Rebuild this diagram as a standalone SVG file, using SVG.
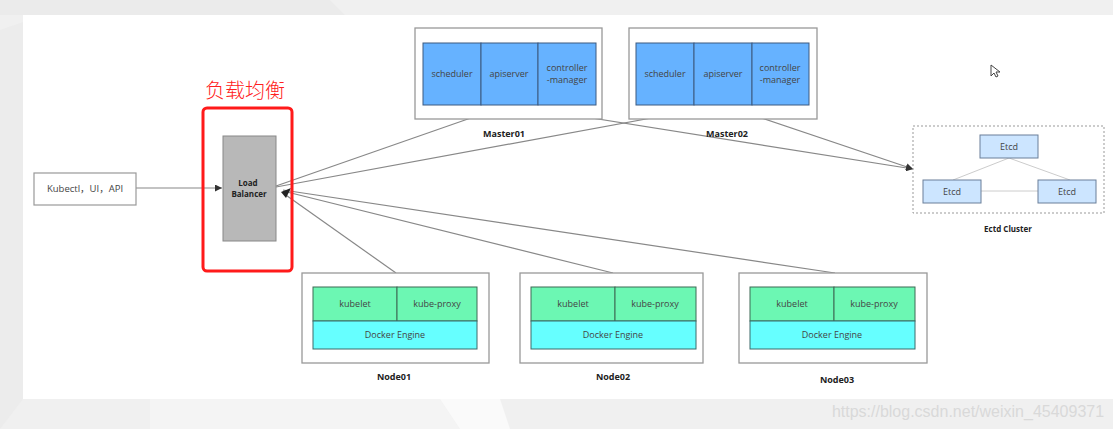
<svg xmlns="http://www.w3.org/2000/svg" width="1113" height="429" viewBox="0 0 1113 429">
<defs>
<marker id="ah" viewBox="0 0 10 10" refX="10" refY="5" markerWidth="7" markerHeight="7" orient="auto" markerUnits="userSpaceOnUse">
<path d="M0,0 L10,5 L0,10 z" fill="#333"/>
</marker>
</defs>
<style>
text{font-family:"Open Sans","Liberation Sans",sans-serif;fill:#444;font-size:9px;text-anchor:middle}
.b{font-weight:bold;fill:#222}
.outer{fill:#fff;stroke:#999;stroke-width:1.3}
.m{fill:#66b2ff;stroke:#3d5a80;stroke-width:1}
.k{fill:#6cf7b3;stroke:#3d6a55;stroke-width:1}
.d{fill:#66ffff;stroke:#3d6a6a;stroke-width:1}
.e{fill:#cce5ff;stroke:#6a7f99;stroke-width:1}
.c{fill:none;stroke:#888;stroke-width:1.2}
.el{stroke:#ccc;stroke-width:1}
</style>
<rect width="1113" height="429" fill="#f0f0f0"/>
<path d="M0,0 L330,0 L345,15 L0,15 z" fill="#ebebeb"/>
<path d="M150,399 L440,399 L460,429 L150,429 z" fill="#f4f4f4"/>
<path d="M440,399 L500,399 L510,429 L460,429 z" fill="#fafafa"/>
<rect x="23" y="15" width="1090" height="384" fill="#fff"/>
<path d="M0,30 L23,22 L23,399 L0,429 z" fill="#ececec"/>

<g id="connectors">
<line class="c" x1="136" y1="188" x2="222" y2="188" marker-end="url(#ah)"/>
<line class="c" x1="276" y1="186" x2="508" y2="105" marker-end="url(#ah)"/>
<line class="c" x1="276" y1="187" x2="722" y2="105" marker-end="url(#ah)"/>
<line class="c" x1="510" y1="105" x2="913" y2="169" marker-end="url(#ah)"/>
<line class="c" x1="723" y1="105" x2="913" y2="169" marker-end="url(#ah)"/>
<line class="c" x1="396" y1="273" x2="283" y2="193"/>
<line class="c" x1="613" y1="273" x2="283" y2="191"/>
<line class="c" x1="835" y1="273" x2="283" y2="190"/>
<path d="M281,192 L291,188 L286,198 z" fill="#222"/>
</g>

<g id="kubectl">
<rect x="34" y="173" width="102" height="32" fill="#fff" stroke="#999" stroke-width="1.2"/>
<text x="85" y="192" style="font-family:'Open Sans','Noto Sans CJK SC',sans-serif;font-size:9.5px">Kubectl，UI，API</text>
</g>

<g id="load-balancer">
<text x="245" y="98" style="font-family:'Noto Sans CJK SC',sans-serif;font-size:20px;font-weight:300;fill:#ff2020">负载均衡</text>
<rect x="203" y="108" width="89" height="163" rx="4" fill="none" stroke="#ff1a1a" stroke-width="3"/>
<rect x="223" y="136" width="53" height="105" fill="#b8b8b8" stroke="#888" stroke-width="1"/>
<text class="b" x="248" y="186" style="font-size:8px">Load</text>
<text class="b" x="249" y="197" style="font-size:8px">Balancer</text>
</g>

<g id="master01">
<rect class="outer" x="415" y="28" width="187" height="91"/>
<rect class="m" x="423" y="43" width="58" height="62"/>
<rect class="m" x="481" y="43" width="57" height="62"/>
<rect class="m" x="538" y="43" width="58" height="62"/>
<text x="452" y="77">scheduler</text>
<text x="509" y="77">apiserver</text>
<text x="567" y="71">controller</text>
<text x="567" y="83">-manager</text>
<text class="b" x="504" y="137">Master01</text>
</g>

<g id="master02">
<rect class="outer" x="629" y="28" width="188" height="91"/>
<rect class="m" x="636" y="43" width="58" height="62"/>
<rect class="m" x="694" y="43" width="58" height="62"/>
<rect class="m" x="752" y="43" width="57" height="62"/>
<text x="665" y="77">scheduler</text>
<text x="723" y="77">apiserver</text>
<text x="780" y="71">controller</text>
<text x="780" y="83">-manager</text>
<text class="b" x="727" y="137">Master02</text>
</g>

<g id="etcd-cluster">
<rect x="913" y="126" width="191" height="87" fill="none" stroke="#999" stroke-width="1" stroke-dasharray="2,2"/>
<line class="el" x1="1009" y1="158" x2="953" y2="180"/>
<line class="el" x1="1009" y1="158" x2="1070" y2="180"/>
<line class="el" x1="981" y1="191" x2="1038" y2="191"/>
<rect class="e" x="980" y="135" width="58" height="23"/>
<rect class="e" x="923" y="180" width="58" height="23"/>
<rect class="e" x="1038" y="180" width="58" height="23"/>
<text x="1009" y="150">Etcd</text>
<text x="952" y="195">Etcd</text>
<text x="1067" y="195">Etcd</text>
<text class="b" x="1008" y="232" style="font-size:8px">Ectd Cluster</text>
</g>

<g id="node01">
<rect class="outer" x="302" y="273" width="187" height="90"/>
<rect class="k" x="313" y="287" width="84" height="34"/>
<rect class="k" x="397" y="287" width="80" height="34"/>
<rect class="d" x="313" y="321" width="164" height="28"/>
<text x="355" y="307">kubelet</text>
<text x="437" y="307">kube-proxy</text>
<text x="395" y="338">Docker Engine</text>
<text class="b" x="394" y="380">Node01</text>
</g>

<g id="node02">
<rect class="outer" x="520" y="273" width="183" height="90"/>
<rect class="k" x="531" y="287" width="84" height="34"/>
<rect class="k" x="615" y="287" width="81" height="34"/>
<rect class="d" x="531" y="321" width="165" height="28"/>
<text x="573" y="307">kubelet</text>
<text x="655" y="307">kube-proxy</text>
<text x="613" y="338">Docker Engine</text>
<text class="b" x="613" y="380">Node02</text>
</g>

<g id="node03">
<rect class="outer" x="739" y="273" width="188" height="90"/>
<rect class="k" x="750" y="287" width="84" height="34"/>
<rect class="k" x="834" y="287" width="81" height="34"/>
<rect class="d" x="750" y="321" width="165" height="28"/>
<text x="792" y="307">kubelet</text>
<text x="874" y="307">kube-proxy</text>
<text x="832" y="338">Docker Engine</text>
<text class="b" x="837" y="383">Node03</text>
</g>

<path d="M991,65 L991,76 L994,73 L996,77 L998,76 L996,72 L1000,72 z" fill="#fff" stroke="#444" stroke-width="1"/>
<text x="968" y="417" style="font-family:'Liberation Sans',sans-serif;font-size:16px;fill:#d9d9d9">https://blog.csdn.net/weixin_45409371</text>
</svg>
